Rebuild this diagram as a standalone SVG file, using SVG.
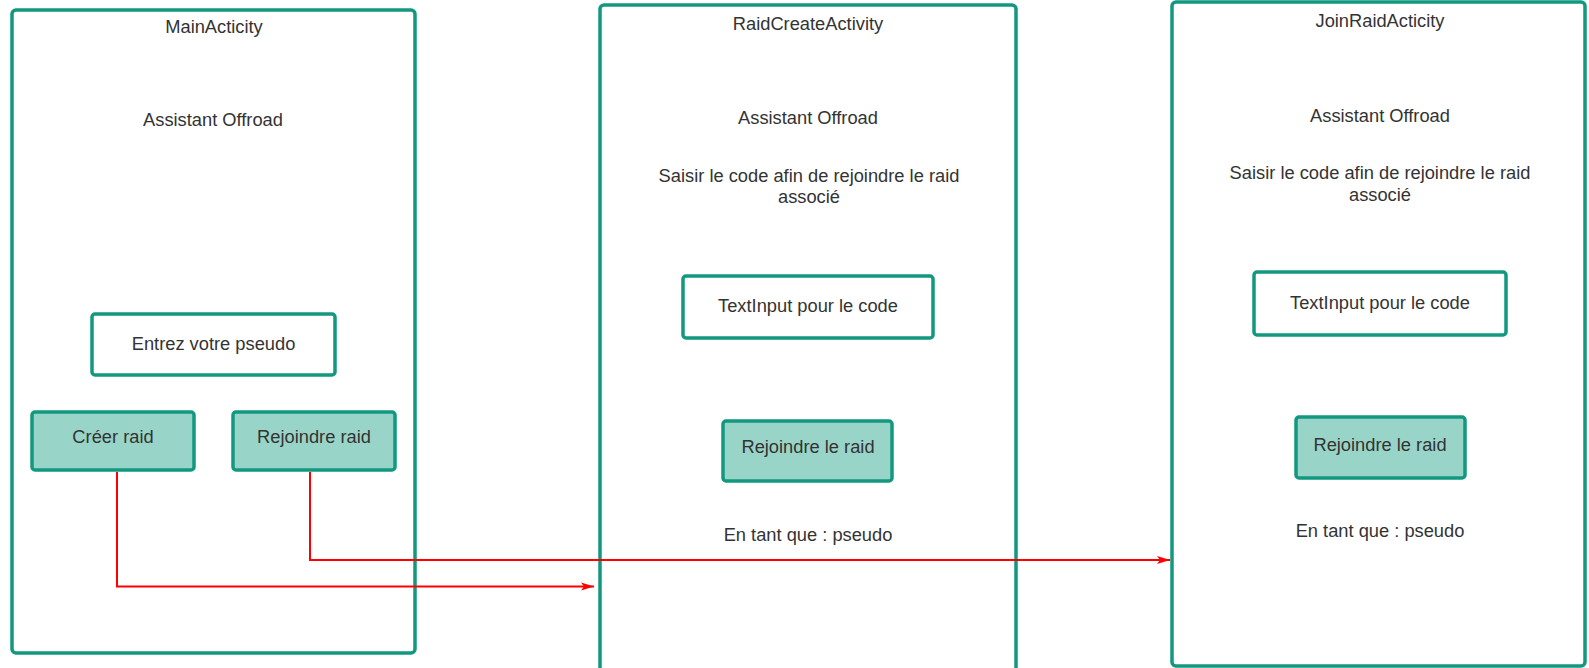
<svg xmlns="http://www.w3.org/2000/svg" width="1589" height="668" viewBox="0 0 1589 668">
<style>
  .screen { fill: #ffffff; stroke: #12987f; stroke-width: 3.5; }
  .input { fill: #ffffff; stroke: #12987f; stroke-width: 3.5; }
  .btn { fill: #98d5c8; stroke: #12987f; stroke-width: 3.5; }
  text { font-family: "Liberation Sans", Arial, sans-serif; font-size: 18.3px; fill: #333333; text-anchor: middle; }
  .conn { fill: none; stroke: #ff0000; stroke-width: 2; }
</style>
<defs>
  <marker id="arrow" markerWidth="14" markerHeight="10" refX="13" refY="5" orient="auto" markerUnits="userSpaceOnUse">
    <path d="M0,1 L13,5 L0,9 L3,5 Z" fill="#ff0000"/>
  </marker>
</defs>
<rect width="1589" height="668" fill="#ffffff"/>

<g id="main-activity">
  <rect class="screen" x="12" y="10" width="403" height="643" rx="4"/>
  <text x="214" y="33">MainActicity</text>
  <text x="213" y="126">Assistant Offroad</text>
</g>
<g id="pseudo-input">
  <rect class="input" x="92" y="314" width="243" height="61" rx="3"/>
  <text x="213.5" y="350">Entrez votre pseudo</text>
</g>
<g id="btn-creer-raid">
  <rect class="btn" x="32" y="412" width="162" height="58" rx="3"/>
  <text x="113" y="443">Créer raid</text>
</g>
<g id="btn-rejoindre-raid">
  <rect class="btn" x="233" y="412" width="162" height="58" rx="3"/>
  <text x="314" y="443">Rejoindre raid</text>
</g>

<g id="raid-create-activity">
  <rect class="screen" x="600" y="5" width="416" height="670" rx="4"/>
  <text x="808" y="30">RaidCreateActivity</text>
  <text x="808" y="124">Assistant Offroad</text>
  <text x="809" y="181.5">Saisir le code afin de rejoindre le raid</text>
  <text x="809" y="203">associé</text>
</g>
<g id="raid-create-code-input">
  <rect class="input" x="683" y="276" width="250" height="62" rx="3"/>
  <text x="808" y="312">TextInput pour le code</text>
</g>
<g id="raid-create-btn-join">
  <rect class="btn" x="723" y="421" width="169" height="60" rx="3"/>
  <text x="808" y="453">Rejoindre le raid</text>
</g>
<g id="raid-create-as">
  <text x="808" y="540.5">En tant que : pseudo</text>
</g>

<g id="join-raid-activity">
  <rect class="screen" x="1172" y="2" width="413" height="664" rx="4"/>
  <text x="1380" y="26.5">JoinRaidActicity</text>
  <text x="1380" y="121.5">Assistant Offroad</text>
  <text x="1380" y="179">Saisir le code afin de rejoindre le raid</text>
  <text x="1380" y="200.5">associé</text>
</g>
<g id="join-raid-code-input">
  <rect class="input" x="1254" y="272" width="252" height="63" rx="3"/>
  <text x="1380" y="309">TextInput pour le code</text>
</g>
<g id="join-raid-btn-join">
  <rect class="btn" x="1296" y="417" width="169" height="61" rx="3"/>
  <text x="1380" y="450.5">Rejoindre le raid</text>
</g>
<g id="join-raid-as">
  <text x="1380" y="537">En tant que : pseudo</text>
</g>

<g id="connectors">
  <path class="conn" d="M117,472 V586.5 H594" marker-end="url(#arrow)"/>
  <path class="conn" d="M310,472 V560 H1170" marker-end="url(#arrow)"/>
</g>
</svg>
